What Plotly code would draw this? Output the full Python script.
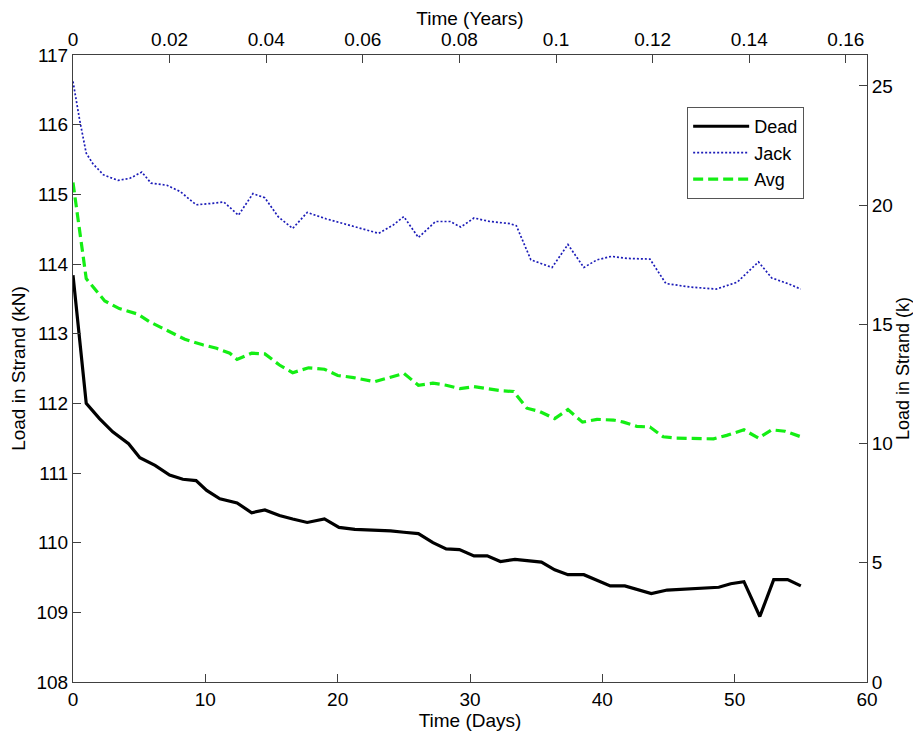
import plotly.graph_objects as go

# ---- data ----
dead_days = [0, 1.0, 2.0, 3.0, 4.2, 5.05, 6.2, 7.3, 8.3, 9.3,
             10.1, 11.1, 12.4, 13.5, 14.5, 15.6, 16.6, 17.7, 19.0, 20.1,
             21.3, 22.7, 24.0, 25.0, 26.1, 27.2, 28.2, 29.2, 30.3, 31.3,
             32.3, 33.4, 34.5, 35.4, 36.4, 37.4, 38.6, 39.6, 40.6, 41.7,
             42.7, 43.7, 44.9, 45.9, 46.9, 47.9, 48.8, 49.7, 50.7, 51.9,
             52.95, 54.0, 55.0]
dead_kn = [113.84, 112.0, 111.78, 111.59, 111.42, 111.22, 111.11, 110.97, 110.91, 110.89,
           110.75, 110.63, 110.57, 110.43, 110.47, 110.39, 110.34, 110.29, 110.34, 110.22,
           110.19, 110.18, 110.17, 110.15, 110.13, 110.0, 109.91, 109.90, 109.81, 109.81,
           109.73, 109.76, 109.74, 109.72, 109.61, 109.54, 109.54, 109.46, 109.38, 109.38,
           109.33, 109.27, 109.32, 109.33, 109.34, 109.35, 109.36, 109.41, 109.44, 108.94,
           109.47, 109.47, 109.38]

jack_days = [0, 0.5, 1.0, 1.5, 2.3, 3.4, 4.3, 5.2, 5.9, 7.1,
             8.1, 9.3, 10.5, 11.4, 12.5, 13.6, 14.5, 15.5, 16.6, 17.7,
             19.1, 20.8, 21.9, 23.1, 24.2, 25.0, 26.1, 27.4, 28.5, 29.3,
             30.3, 31.5, 33.0, 33.5, 34.6, 36.2, 37.4, 38.6, 39.6, 40.7,
             41.9, 43.6, 44.8, 46.6, 48.6, 50.2, 51.8, 52.8, 54.0, 55.0]
jack_kn = [116.62, 116.07, 115.59, 115.44, 115.28, 115.20, 115.23, 115.32, 115.16, 115.13,
           115.04, 114.85, 114.87, 114.89, 114.70, 115.01, 114.95, 114.68, 114.51, 114.74,
           114.65, 114.56, 114.50, 114.44, 114.56, 114.68, 114.38, 114.61, 114.61, 114.53,
           114.66, 114.61, 114.58, 114.55, 114.06, 113.95, 114.28, 113.95, 114.06, 114.11,
           114.08, 114.07, 113.72, 113.67, 113.64, 113.74, 114.03, 113.80, 113.72, 113.64]

avg_days = [0, 1.0, 2.4, 3.5, 4.9, 5.8, 7.07, 8.45, 9.8, 10.85,
            11.85, 12.4, 13.5, 14.5, 15.6, 16.6, 17.8, 19.0, 20.0, 21.2,
            22.8, 24.0, 25.0, 26.1, 27.2, 28.2, 29.25, 30.3, 31.3, 32.4,
            33.3, 34.3, 35.3, 36.4, 37.4, 38.5, 39.6, 40.85, 41.6, 42.6,
            43.6, 44.6, 45.6, 46.9, 48.4, 49.4, 50.7, 51.8, 52.8, 53.8, 55.0]
avg_kn = [115.17, 113.79, 113.47, 113.36, 113.28, 113.17, 113.05, 112.92, 112.84, 112.79,
          112.72, 112.63, 112.72, 112.71, 112.55, 112.44, 112.51, 112.49, 112.40, 112.37,
          112.31, 112.38, 112.43, 112.26, 112.29, 112.26, 112.21, 112.24, 112.21, 112.18,
          112.17, 111.93, 111.88, 111.78, 111.91, 111.73, 111.77, 111.76, 111.73, 111.67,
          111.66, 111.52, 111.50, 111.50, 111.49, 111.54, 111.62, 111.50, 111.62, 111.60, 111.52]

days_ticks = [0, 10, 20, 30, 40, 50, 60]
kn_ticks = [108, 109, 110, 111, 112, 113, 114, 115, 116, 117]
year_ticks = [0, 0.02, 0.04, 0.06, 0.08, 0.10, 0.12, 0.14, 0.16]
year_labels = ["0", "0.02", "0.04", "0.06", "0.08", "0.1", "0.12", "0.14", "0.16"]
kip_ticks = [0, 5, 10, 15, 20, 25]

DAYS_PER_YEAR = 365.0
X_MAX_DAYS = 60
KIP_MAX = 26.3

FONT = "Liberation Sans, Arial, sans-serif"
AX = "#404040"
FS = 19

fig = go.Figure()
fig.add_trace(go.Scatter(x=dead_days, y=dead_kn, mode="lines", name="Dead",
                         line=dict(color="black", width=3.2)))
fig.add_trace(go.Scatter(x=jack_days, y=jack_kn, mode="lines", name="Jack",
                         line=dict(color="#1c1cb8", width=1.7, dash="2px,2px")))
fig.add_trace(go.Scatter(x=avg_days, y=avg_kn, mode="lines", name="Avg",
                         line=dict(color="#14ee14", width=3.2, dash="10px,5px")))
# invisible carrier so the secondary (years / kips) axes are drawn
fig.add_trace(go.Scatter(x=[0, X_MAX_DAYS / DAYS_PER_YEAR], y=[0, KIP_MAX],
                         xaxis="x2", yaxis="y2", mode="lines",
                         line=dict(width=0, color="rgba(0,0,0,0)"),
                         showlegend=False, hoverinfo="skip"))

common = dict(showline=True, linecolor=AX, linewidth=1, ticks="inside", ticklen=8,
              tickcolor=AX, showgrid=False, zeroline=False, automargin=False,
              tickfont=dict(family=FONT, size=FS, color="black"))

fig.update_layout(
    width=913, height=728,
    margin=dict(l=65, r=54, t=47, b=54),
    paper_bgcolor="white", plot_bgcolor="white",
    font=dict(family=FONT, size=FS, color="black"),
    showlegend=True,
    legend=dict(x=0.7735, y=0.917, xanchor="left", yanchor="top",
                bgcolor="white", bordercolor="#555555", borderwidth=1,
                tracegroupgap=0, itemwidth=56,
                font=dict(family=FONT, size=18, color="black")),
    xaxis=dict(range=[0, X_MAX_DAYS], tickvals=days_ticks,
               title=dict(text="Time (Days)", standoff=2, font=dict(family=FONT, size=FS)),
               **common),
    yaxis=dict(range=[108, 117], tickvals=kn_ticks,
               title=dict(text="Load in Strand (kN)", standoff=8, font=dict(family=FONT, size=FS)),
               **common),
    xaxis2=dict(range=[0, X_MAX_DAYS / DAYS_PER_YEAR], overlaying="x", side="top", anchor="y",
                tickvals=year_ticks, ticktext=year_labels,
                title=dict(text="Time (Years)", standoff=2, font=dict(family=FONT, size=FS)),
                **common),
    yaxis2=dict(range=[0, KIP_MAX], overlaying="y", side="right", anchor="x",
                tickvals=kip_ticks,
                title=dict(text="Load in Strand (k)", standoff=3, font=dict(family=FONT, size=18)),
                **common),
)

fig.write_html("out.html")
